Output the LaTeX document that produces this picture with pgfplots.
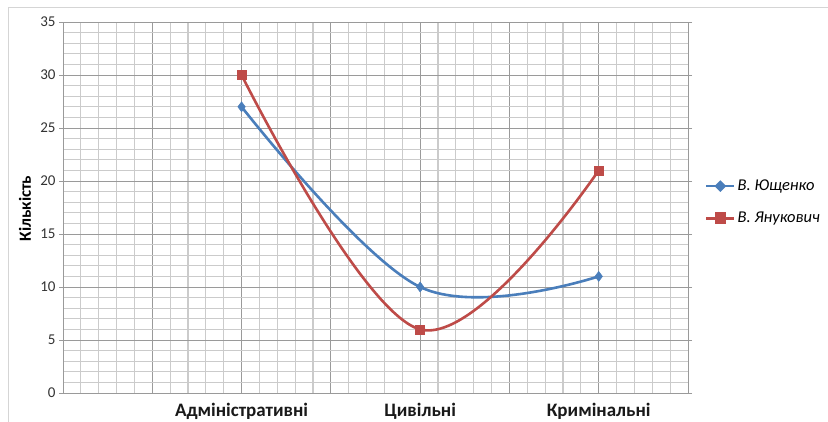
\documentclass[border=0pt]{standalone}
\usepackage{fontspec}
\setmainfont{Carlito}
\usepackage{pgfplots}
\pgfplotsset{compat=1.18}
\definecolor{serblue}{HTML}{4A7EBB}
\definecolor{serred}{HTML}{BE4B48}
\definecolor{majgrid}{HTML}{9A9A9A}
\definecolor{mingrid}{HTML}{CBCBCB}
\begin{document}
\begin{tikzpicture}
\useasboundingbox (0pt,0pt) rectangle (828pt,422pt);
\fill[white] (0pt,0pt) rectangle (828pt,422pt);
\draw[mingrid!80, line width=1pt] (8pt,0pt) -- (8pt,414pt) -- (829pt,414pt);
\begin{axis}[
    at={(63pt,29pt)}, anchor=south west,
    scale only axis, width=625pt, height=371pt,
    xmin=0, xmax=7, ymin=0, ymax=35,
    xtick={0,...,7},
    xticklabels={,,Адміністративні,,Цивільні,,Кримінальні,},
    ytick={0,5,...,35},
    minor x tick num=4, minor y tick num=4,
    grid=both,
    major grid style={majgrid, line width=0.9pt},
    minor grid style={mingrid, line width=1.2pt},
    axis line style={majgrid, line width=0.9pt},
    x tick style={draw=none},
    y tick style={majgrid, line width=0.9pt},
    minor tick length=0pt,
    major tick length=4pt,
    tick align=outside,
    x tick label style={font=\fontsize{19}{22}\selectfont\bfseries, text=black!90, yshift=-3pt},
    y tick label style={font=\fontsize{15}{17}\selectfont, text=black!80},
    /pgf/number format/assume math mode=true,
    ylabel={Кількість},
    ylabel style={font=\fontsize{17}{20}\selectfont\bfseries, at={(axis description cs:-0.0608,0.497)}, anchor=center},
    legend style={at={(1.027,0.58)}, anchor=north west, draw=none, fill=none,
        font=\fontsize{16.5}{19}\selectfont\itshape, row sep=16pt,
        cells={anchor=west}, inner sep=0pt},
    legend cell align=left,
    clip=false,
]
\addplot[serblue, line width=2.6pt, smooth, tension=0.6,
    mark=diamond*, mark size=5pt, mark options={solid, line width=0.5pt, fill=serblue},
    legend image code/.code={\draw[serblue, line width=2.6pt] (0pt,0pt) -- (28pt,0pt);
        \fill[serblue] (10pt,0pt) -- (14pt,4pt) -- (18pt,0pt) -- (14pt,-4pt) -- cycle;}]
    coordinates {(2,27) (4,10) (6,11)};
\addlegendentry{В. Ющенко}
\addplot[serred, line width=2.6pt, smooth, tension=0.6,
    mark=square*, mark size=4.5pt, mark options={solid, line width=0.5pt, fill=serred},
    legend image code/.code={\draw[serred, line width=2.6pt] (0pt,0pt) -- (28pt,0pt);
        \fill[serred] (9.5pt,-4.5pt) rectangle (18.5pt,4.5pt);}]
    coordinates {(2,30) (4,6) (6,21)};
\addlegendentry{В. Янукович}
\end{axis}
\end{tikzpicture}
\end{document}
